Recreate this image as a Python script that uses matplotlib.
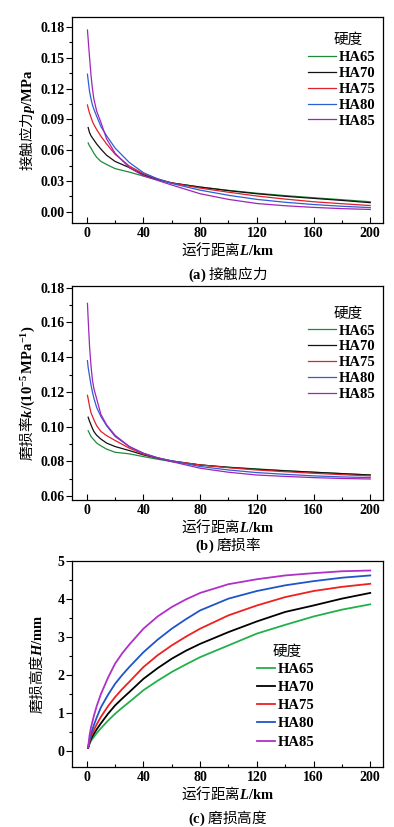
import numpy as np
import matplotlib
matplotlib.use("Agg")
import matplotlib.pyplot as plt
from matplotlib.ticker import MultipleLocator

plt.rcParams["font.family"] = ["Noto Sans CJK SC", "DejaVu Sans"]
plt.rcParams["mathtext.fontset"] = "custom"
plt.rcParams["mathtext.rm"] = "Liberation Serif:bold"
plt.rcParams["mathtext.it"] = "Liberation Serif:bold:italic"
plt.rcParams["mathtext.bf"] = "Liberation Serif:bold"

# data
grades = ["HA65", "HA70", "HA75", "HA80", "HA85"]
colors = ["#1f8a3c", "#111111", "#e0202a", "#2a5fd6", "#a024b8"]
colors_c = ["#22b04a", "#000000", "#ee2020", "#1f55c8", "#b030c8"]

L_ab = [0.5, 1, 2, 3, 4, 5, 7, 10, 14, 20, 30, 40, 50, 60, 80, 100, 120, 140, 160, 180, 200]

p_vals = {
    "HA65": [np.nan, 0.067, 0.064, 0.062, 0.0595, 0.057, 0.053, 0.049, 0.046, 0.042, 0.0386, 0.0347,
             0.031, 0.028, 0.024, 0.0208, 0.018, 0.0157, 0.0136, 0.0117, 0.0097],
    "HA70": [np.nan, 0.082, 0.077, 0.074, 0.072, 0.070, 0.066, 0.061, 0.055, 0.049, 0.043, 0.036,
             0.0315, 0.028, 0.024, 0.0205, 0.0175, 0.015, 0.013, 0.011, 0.0088],
    "HA75": [0.104, 0.101, 0.096, 0.092, 0.088, 0.085, 0.080, 0.0735, 0.066, 0.056, 0.0445, 0.037,
             0.032, 0.028, 0.023, 0.019, 0.0153, 0.0123, 0.0097, 0.0078, 0.006],
    "HA80": [0.134, 0.128, 0.117, 0.110, 0.104, 0.100, 0.093, 0.083, 0.074, 0.062, 0.048, 0.038,
             0.032, 0.0275, 0.021, 0.016, 0.012, 0.0092, 0.007, 0.0053, 0.004],
    "HA85": [0.177, 0.168, 0.150, 0.133, 0.120, 0.110, 0.098, 0.087, 0.071, 0.057, 0.043, 0.035,
             0.0305, 0.026, 0.0175, 0.012, 0.008, 0.0058, 0.0042, 0.003, 0.0022],
}

k_vals = {
    "HA65": [np.nan, 0.0976, 0.096, 0.0943, 0.0933, 0.0924, 0.0905, 0.0889, 0.087, 0.0852, 0.0843, 0.0827,
             0.0812, 0.0798, 0.0779, 0.0766, 0.0756, 0.0746, 0.0737, 0.0729, 0.0721],
    "HA70": [np.nan, 0.1054, 0.103, 0.101, 0.099, 0.0972, 0.095, 0.0928, 0.0905, 0.0885, 0.0862, 0.0837,
             0.0818, 0.0802, 0.0779, 0.0765, 0.0754, 0.0745, 0.0737, 0.0729, 0.0721],
    "HA75": [0.118, 0.116, 0.1116, 0.108, 0.106, 0.104, 0.1005, 0.0972, 0.0948, 0.092, 0.0876, 0.0841,
             0.082, 0.0802, 0.0779, 0.0763, 0.075, 0.074, 0.0731, 0.0723, 0.0716],
    "HA80": [0.138, 0.134, 0.129, 0.124, 0.120, 0.1165, 0.111, 0.1058, 0.1005, 0.0943, 0.0885, 0.0846,
             0.082, 0.0802, 0.077, 0.075, 0.0735, 0.0725, 0.0716, 0.071, 0.0706],
    "HA85": [0.171, 0.162, 0.146, 0.135, 0.127, 0.122, 0.116, 0.107, 0.101, 0.095, 0.0885, 0.0846,
             0.082, 0.0798, 0.076, 0.0737, 0.0721, 0.0713, 0.0706, 0.0701, 0.0698],
}

L_c = [1, 2, 3, 5, 7, 10, 15, 20, 25, 30, 40, 50, 60, 70, 80, 100, 120, 140, 160, 180, 200]
h_vals = {
    "HA65": [0.08, 0.19, 0.27, 0.37, 0.47, 0.60, 0.80, 0.98, 1.14, 1.29, 1.60, 1.85, 2.08, 2.28,
             2.47, 2.78, 3.09, 3.32, 3.54, 3.72, 3.86],
    "HA70": [0.08, 0.22, 0.32, 0.45, 0.57, 0.73, 0.98, 1.20, 1.38, 1.55, 1.90, 2.18, 2.43, 2.64,
             2.82, 3.13, 3.41, 3.66, 3.83, 4.01, 4.16],
    "HA75": [0.09, 0.26, 0.38, 0.55, 0.70, 0.90, 1.18, 1.42, 1.63, 1.82, 2.21, 2.52, 2.78, 3.01,
             3.22, 3.57, 3.83, 4.05, 4.21, 4.32, 4.40],
    "HA80": [0.10, 0.31, 0.45, 0.68, 0.88, 1.15, 1.48, 1.77, 2.00, 2.21, 2.60, 2.93, 3.22, 3.47,
             3.70, 4.01, 4.21, 4.36, 4.47, 4.56, 4.62],
    "HA85": [0.10, 0.42, 0.62, 0.92, 1.18, 1.50, 1.93, 2.30, 2.57, 2.80, 3.22, 3.54, 3.79, 3.99,
             4.16, 4.39, 4.52, 4.62, 4.68, 4.73, 4.75],
}

fig = plt.figure(figsize=(3.94, 8.27), dpi=100)
W, H = 394, 827
FS = 10.5


def make_axes(top, bottom, left=72, right=383):
    return fig.add_axes([left / W, 1 - bottom / H, (right - left) / W, (bottom - top) / H])


def style_axes(ax, xlim, ylim, ymajor, yminor, yfmt):
    ax.set_xlim(*xlim)
    ax.set_ylim(*ylim)
    ax.xaxis.set_major_locator(MultipleLocator(40))
    ax.xaxis.set_minor_locator(MultipleLocator(20))
    ax.yaxis.set_major_locator(MultipleLocator(ymajor))
    ax.yaxis.set_minor_locator(MultipleLocator(yminor))
    ax.yaxis.set_major_formatter(yfmt)
    ax.tick_params(axis="x", which="major", direction="in", length=4, width=0.8, pad=3)
    ax.tick_params(axis="x", which="minor", direction="in", length=2.5, width=0.8)
    ax.tick_params(axis="y", which="major", direction="out", length=4, width=0.8, pad=1.5)
    ax.tick_params(axis="y", which="minor", direction="out", length=2.5, width=0.8)
    for lab in ax.get_xticklabels() + ax.get_yticklabels():
        lab.set_family("Liberation Serif")
        lab.set_weight("bold")
        lab.set_fontsize(10)
    for sp in ax.spines.values():
        sp.set_linewidth(0.9)
    ax.set_xlabel(r"运行距离$\mathit{L}\mathrm{/km}$", fontsize=FS, labelpad=0)


def add_legend(ax, anchor, spacing, hlen, title_xy):
    ax.legend(loc="upper right", bbox_to_anchor=anchor, frameon=False,
              prop={"family": "Liberation Serif", "weight": "bold", "size": FS},
              handlelength=hlen, handletextpad=0.2, labelspacing=spacing,
              borderaxespad=0, borderpad=0)
    ax.text(*title_xy, "硬度", transform=ax.transAxes, ha="center", va="center", fontsize=FS)


# (a) contact stress
ax1 = make_axes(17, 223)
for g, c in zip(grades, colors):
    ax1.plot(L_ab, p_vals[g], color=c, lw=0.9, label=g)
style_axes(ax1, (-10.4, 209), (-0.011, 0.1897), 0.03, 0.015, "{x:.2f}")
ax1.set_ylabel(r"接触应力$\mathit{p}\mathrm{/MPa}$", fontsize=FS, labelpad=2)
add_legend(ax1, (0.975, 0.835), 0.18, 1.9, (0.887, 0.89))

# (b) wear rate
ax2 = make_axes(286, 500)
for g, c in zip(grades, colors):
    ax2.plot(L_ab, k_vals[g], color=c, lw=0.9, label=g)
style_axes(ax2, (-10.4, 209), (0.0577, 0.181), 0.02, 0.01, "{x:.2f}")
ax2.set_ylabel(r"磨损率$\mathit{k}\mathrm{/(10^{-5}\/MPa^{-1})}$", fontsize=FS, labelpad=2)
add_legend(ax2, (0.975, 0.821), 0.18, 1.9, (0.887, 0.872))

# (c) wear height
ax3 = make_axes(561, 767)
for g, c in zip(grades, colors_c):
    ax3.plot(L_c, h_vals[g], color=c, lw=1.3, label=g)
style_axes(ax3, (-10.4, 209), (-0.42, 5.0), 1, 0.5, "{x:.0f}")
ax3.set_ylabel(r"磨损高度$\mathit{H}\mathrm{/mm}$", fontsize=FS, labelpad=9)
add_legend(ax3, (0.78, 0.506), 0.34, 1.2, (0.691, 0.56))

# captions
fig.text(228 / W, 1 - 274 / H, r"$\mathrm{(a)}$ 接触应力", ha="center", va="center", fontsize=FS)
fig.text(228 / W, 1 - 545 / H, r"$\mathrm{(b)}$ 磨损率", ha="center", va="center", fontsize=FS)
fig.text(228 / W, 1 - 818 / H, r"$\mathrm{(c)}$ 磨损高度", ha="center", va="center", fontsize=FS)

fig.savefig("out.png", dpi=100, facecolor="white")
